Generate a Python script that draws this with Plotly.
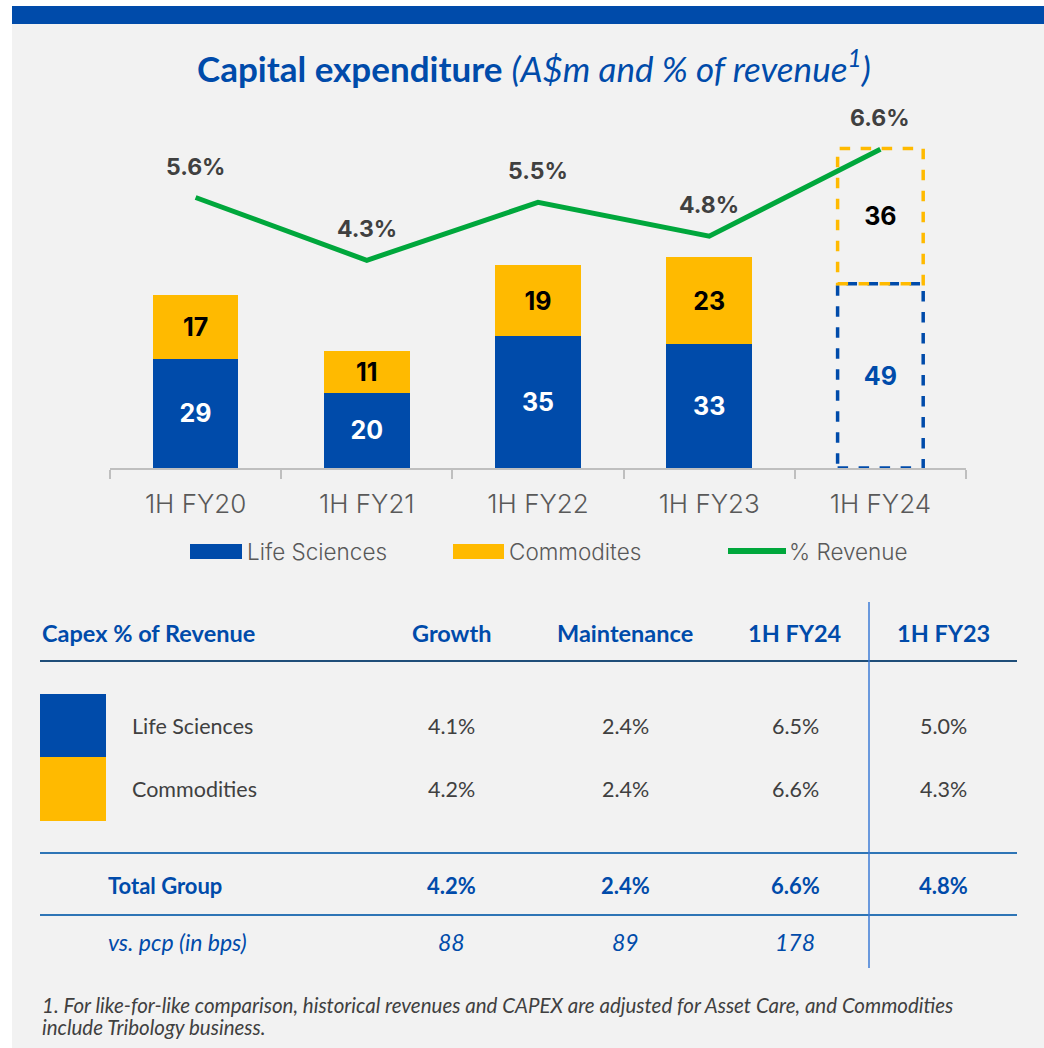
import plotly.graph_objects as go

# ---------------- data ----------------
categories = ["1H FY20", "1H FY21", "1H FY22", "1H FY23", "1H FY24"]
life_sciences = [29, 20, 35, 33, 49]
commodities = [17, 11, 19, 23, 36]
pct_revenue = [5.6, 4.3, 5.5, 4.8, 6.6]
series_names = ["Life Sciences", "Commodites", "% Revenue"]

table_header = ["Capex % of Revenue", "Growth", "Maintenance", "1H FY24", "1H FY23"]
table_rows = ["Life Sciences", "Commodities"]
ls_vals = ["4.1%", "2.4%", "6.5%", "5.0%"]
comm_vals = ["4.2%", "2.4%", "6.6%", "4.3%"]
total_label = "Total Group"
total_vals = ["4.2%", "2.4%", "6.6%", "4.8%"]
pcp_label = "vs. pcp (in bps)"
pcp_vals = ["88", "89", "178"]
footnote_lines = [
    "1. For like-for-like comparison, historical revenues and CAPEX are adjusted for Asset Care, and Commodities",
    "include Tribology business.",
]

# ---------------- style ----------------
W, H = 1044, 1048
BLUE = "#004BAA"
GOLD = "#FFBA00"
GREEN = "#00A73C"
GRAY_BG = "#F2F2F2"
TXT = "#404040"
AX = "#595959"
FONT = "Lato"
CHART_FONT = "Inter"


def px(x):
    return x / W


def py(y):
    return 1 - y / H


bar_w = 0.5
n = len(categories)
last = n - 1

# bar colours: last bar shown as dashed outline
ls_colors = [BLUE] * (n - 1) + ["rgba(0,0,0,0)"]
cm_colors = [GOLD] * (n - 1) + ["rgba(0,0,0,0)"]
ls_text_col = ["white"] * (n - 1) + [BLUE]
cm_text_col = ["black"] * n

fig = go.Figure()
fig.add_trace(go.Bar(
    x=categories, y=life_sciences, name=series_names[0], width=bar_w,
    marker=dict(color=ls_colors, line=dict(width=0)),
    text=[str(v) for v in life_sciences], textposition="inside", insidetextanchor="middle",
    textangle=0, textfont=dict(family=CHART_FONT, size=25, color=ls_text_col, weight="bold"),
    cliponaxis=False,
))
fig.add_trace(go.Bar(
    x=categories, y=commodities, name=series_names[1], width=bar_w,
    marker=dict(color=cm_colors, line=dict(width=0)),
    text=[str(v) for v in commodities], textposition="inside", insidetextanchor="middle",
    textangle=0, textfont=dict(family=CHART_FONT, size=25, color=cm_text_col, weight="bold"),
    cliponaxis=False,
))
fig.add_trace(go.Scatter(
    x=categories, y=pct_revenue, name=series_names[2], yaxis="y2", mode="lines",
    line=dict(color=GREEN, width=5), cliponaxis=False,
))

# line labels
for c, v in zip(categories, pct_revenue):
    fig.add_annotation(x=c, y=v, xref="x", yref="y2", text=f"{v:.1f}%",
                       showarrow=False, yshift=31, yanchor="middle",
                       font=dict(family=CHART_FONT, size=23, color=TXT, weight="bold"))

shapes = []
# page background pieces
shapes.append(dict(type="rect", xref="paper", yref="paper", x0=px(12), x1=px(W), y0=py(H), y1=py(24),
                   fillcolor=GRAY_BG, line=dict(width=0), layer="below"))
shapes.append(dict(type="rect", xref="paper", yref="paper", x0=px(12), x1=px(W), y0=py(24), y1=py(6),
                   fillcolor=BLUE, line=dict(width=0), layer="below"))

# dashed outline for the last bar
shapes.append(dict(type="rect", xref="x", yref="y", x0=last - bar_w / 2, x1=last + bar_w / 2,
                   y0=0, y1=life_sciences[last], line=dict(color=BLUE, width=3.5, dash="dash")))
shapes.append(dict(type="rect", xref="x", yref="y", x0=last - bar_w / 2, x1=last + bar_w / 2,
                   y0=life_sciences[last], y1=life_sciences[last] + commodities[last],
                   line=dict(color=GOLD, width=3.5, dash="dash")))

# manual legend
leg_y = 551
leg_font = dict(family=CHART_FONT, size=22.5, color=AX, weight=300)
shapes.append(dict(type="rect", xref="paper", yref="paper", x0=px(190), x1=px(242), y0=py(559), y1=py(544),
                   fillcolor=BLUE, line=dict(width=0)))
shapes.append(dict(type="rect", xref="paper", yref="paper", x0=px(453), x1=px(504), y0=py(559), y1=py(544),
                   fillcolor=GOLD, line=dict(width=0)))
shapes.append(dict(type="line", xref="paper", yref="paper", x0=px(728), x1=px(786), y0=py(leg_y), y1=py(leg_y),
                   line=dict(color=GREEN, width=6)))
for xx, name in zip([245, 507, 787], series_names):
    fig.add_annotation(x=px(xx), y=py(leg_y), xref="paper", yref="paper", text=name, showarrow=False,
                       xanchor="left", yanchor="middle", font=leg_font)

# title
fig.add_annotation(x=px(534), y=py(66), xref="paper", yref="paper", showarrow=False,
                   xanchor="center", yanchor="middle",
                   text="<b>Capital expenditure</b> <i>(A$m and % of revenue<sup>1</sup>)</i>",
                   font=dict(family=FONT, size=35, color=BLUE))

# ---------------- table ----------------
col_x = [451, 625, 795, 943]
hdr_y = 633
hdr_font = dict(family=FONT, size=23.5, color=BLUE)
fig.add_annotation(x=px(40), y=py(hdr_y), xref="paper", yref="paper", showarrow=False, xanchor="left",
                   yanchor="middle", text=f"<b>{table_header[0]}</b>", font=hdr_font)
for cx, h in zip(col_x, table_header[1:]):
    fig.add_annotation(x=px(cx), y=py(hdr_y), xref="paper", yref="paper", showarrow=False, xanchor="center",
                       yanchor="middle", text=f"<b>{h}</b>", font=hdr_font)

shapes.append(dict(type="line", xref="paper", yref="paper", x0=px(40), x1=px(1017), y0=py(661), y1=py(661),
                   line=dict(color="#1F4E79", width=2)))
shapes.append(dict(type="line", xref="paper", yref="paper", x0=px(40), x1=px(1017), y0=py(853), y1=py(853),
                   line=dict(color="#2E75B6", width=2)))
shapes.append(dict(type="line", xref="paper", yref="paper", x0=px(40), x1=px(1017), y0=py(915), y1=py(915),
                   line=dict(color="#2E75B6", width=2)))
shapes.append(dict(type="line", xref="paper", yref="paper", x0=px(869), x1=px(869), y0=py(602), y1=py(968),
                   line=dict(color="#3C7BD6", width=1.5)))

# colour swatches
shapes.append(dict(type="rect", xref="paper", yref="paper", x0=px(40), x1=px(106), y0=py(757), y1=py(694),
                   fillcolor=BLUE, line=dict(width=0)))
shapes.append(dict(type="rect", xref="paper", yref="paper", x0=px(40), x1=px(106), y0=py(821), y1=py(757),
                   fillcolor=GOLD, line=dict(width=0)))

row_font = dict(family=FONT, size=21.5, color=TXT)
for ry, label, vals in zip([726, 789], table_rows, [ls_vals, comm_vals]):
    fig.add_annotation(x=px(130), y=py(ry), xref="paper", yref="paper", showarrow=False, xanchor="left",
                       yanchor="middle", text=label, font=row_font)
    for cx, v in zip(col_x, vals):
        fig.add_annotation(x=px(cx), y=py(ry), xref="paper", yref="paper", showarrow=False, xanchor="center",
                           yanchor="middle", text=v, font=row_font)

tot_font = dict(family=FONT, size=22, color=BLUE)
fig.add_annotation(x=px(106), y=py(885), xref="paper", yref="paper", showarrow=False, xanchor="left",
                   yanchor="middle", text=f"<b>{total_label}</b>", font=tot_font)
for cx, v in zip(col_x, total_vals):
    fig.add_annotation(x=px(cx), y=py(885), xref="paper", yref="paper", showarrow=False, xanchor="center",
                       yanchor="middle", text=f"<b>{v}</b>", font=tot_font)

fig.add_annotation(x=px(106), y=py(942), xref="paper", yref="paper", showarrow=False, xanchor="left",
                   yanchor="middle", text=f"<i>{pcp_label}</i>", font=dict(family=FONT, size=23, color=BLUE))
for cx, v in zip(col_x, pcp_vals):
    fig.add_annotation(x=px(cx), y=py(942), xref="paper", yref="paper", showarrow=False, xanchor="center",
                       yanchor="middle", text=f"<i>{v}</i>", font=dict(family=FONT, size=23, color=BLUE))

# footnote
for fy, line in zip([1005, 1027], footnote_lines):
    fig.add_annotation(x=px(40), y=py(fy), xref="paper", yref="paper", showarrow=False, xanchor="left",
                       yanchor="middle", align="left", text=f"<i>{line}</i>",
                       font=dict(family=FONT, size=20.5, color=TXT))

# ---------------- axes / layout ----------------
plot_top, plot_bot = 100, 468
h_px = plot_bot - plot_top
fig.update_layout(
    width=W, height=H, autosize=False,
    margin=dict(l=0, r=0, t=0, b=0, pad=0),
    paper_bgcolor="white", plot_bgcolor="rgba(0,0,0,0)",
    barmode="stack", bargap=0.5, showlegend=False,
    shapes=shapes,
    xaxis=dict(domain=[px(110), px(966)], type="category", range=[-0.5, n - 0.5],
               showline=True, linecolor="#BFBFBF", linewidth=1.5,
               ticks="outside", tickson="boundaries", ticklen=9, tickcolor="#BFBFBF", tickwidth=1.5,
               showgrid=False, zeroline=False, ticklabelstandoff=12,
               tickfont=dict(family=CHART_FONT, size=26, color=AX, weight=300)),
    yaxis=dict(domain=[py(plot_bot), py(plot_top)], range=[0, h_px / 3.76], visible=False),
    yaxis2=dict(overlaying="y", range=[0, h_px / 48.3], visible=False),
)

fig.write_html("out.html", config={"displayModeBar": False},
               post_script="document.body.style.margin='0';")
